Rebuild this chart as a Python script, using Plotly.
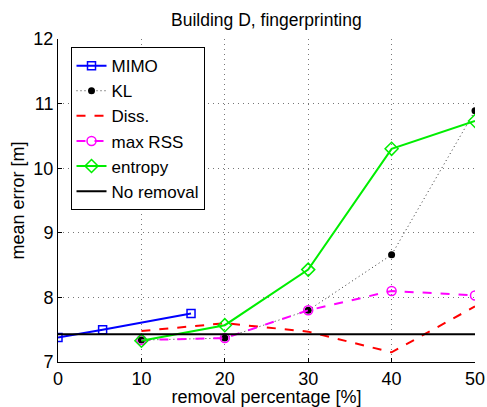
import plotly.graph_objects as go

mimo_x = [0, 5.35, 15.95]
mimo_y = [7.38, 7.50, 7.75]
pct = [10, 20, 30, 40, 50]
kl_y = [7.34, 7.37, 7.80, 8.66, 10.89]
diss_y = [7.48, 7.60, 7.47, 7.15, 7.86]
maxrss_y = [7.34, 7.37, 7.80, 8.10, 8.03]
entropy_y = [7.33, 7.57, 8.43, 10.30, 10.73]
noremoval_x = [0, 50]
noremoval_y = [7.43, 7.43]

fig = go.Figure()
fig.add_trace(go.Scatter(x=mimo_x, y=mimo_y, name="MIMO", mode="lines+markers",
                         line=dict(color="#0000ff", width=2),
                         marker=dict(symbol="square-open", size=8, color="#0000ff", line=dict(width=1.5))))
fig.add_trace(go.Scatter(x=pct, y=kl_y, name="KL", mode="lines+markers",
                         line=dict(color="#333333", width=1, dash="1px,3px"),
                         marker=dict(symbol="circle", size=7, color="#000000")))
fig.add_trace(go.Scatter(x=pct, y=diss_y, name="Diss.", mode="lines",
                         line=dict(color="#ff0000", width=2, dash="dash")))
fig.add_trace(go.Scatter(x=pct, y=maxrss_y, name="max RSS", mode="lines+markers",
                         line=dict(color="#ff00ff", width=2, dash="dash"),
                         marker=dict(symbol="circle-open", size=9, color="#ff00ff", line=dict(width=1.5))))
fig.add_trace(go.Scatter(x=pct, y=entropy_y, name="entropy", mode="lines+markers",
                         line=dict(color="#00ee00", width=2),
                         marker=dict(symbol="diamond-open", size=10, color="#00ee00", line=dict(width=1.5))))
fig.add_trace(go.Scatter(x=noremoval_x, y=noremoval_y, name="No removal", mode="lines",
                         line=dict(color="#000000", width=2)))

axis_common = dict(showline=True, linecolor="black", linewidth=1, ticks="inside", ticklen=4,
                   tickcolor="black", showgrid=True, gridcolor="#777777", gridwidth=1,
                   griddash="1px,4px", zeroline=False, mirror=False, automargin=False,
                   tickfont=dict(size=18, color="black"))

fig.update_layout(
    width=487, height=407,
    margin=dict(l=58, r=12, t=39, b=45),
    paper_bgcolor="white", plot_bgcolor="white",
    font=dict(family="Liberation Sans, Arial, sans-serif", color="black", size=18),
    title=dict(text="Building D, fingerprinting", x=0.547, xanchor="center", y=0.95, yanchor="middle",
               font=dict(size=17.5)),
    xaxis=dict(range=[0, 50], tickvals=[0, 10, 20, 30, 40, 50],
               title=dict(text="removal percentage [%]", font=dict(size=18), standoff=0), **axis_common),
    yaxis=dict(range=[7, 12], tickvals=[7, 8, 9, 10, 11, 12],
               title=dict(text="mean error [m]", font=dict(size=18), standoff=4), **axis_common),
    legend=dict(x=0.03, y=0.975, xanchor="left", yanchor="top", bgcolor="white",
                bordercolor="black", borderwidth=1, font=dict(size=17), tracegroupgap=0),
    showlegend=True,
)

fig.write_html("out.html")
